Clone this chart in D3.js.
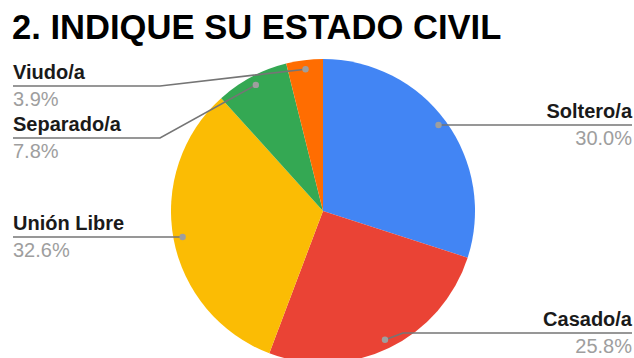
<!DOCTYPE html>
<html>
<head>
<meta charset="utf-8">
<script src="https://cdn.jsdelivr.net/npm/d3@7"></script>
<style>
  html, body { margin: 0; padding: 0; background: #fff; }
  svg { display: block; font-family: "Liberation Sans", Arial, sans-serif; }
</style>
</head>
<body>
<svg id="chart" width="634" height="358"></svg>
<script>
// Marital status survey results
const categories = ["Soltero/a", "Casado/a", "Unión Libre", "Separado/a", "Viudo/a"];
const values = [30.0, 25.8, 32.6, 7.8, 3.9];
const colors = ["#4285F4", "#EA4335", "#FBBC04", "#34A853", "#FF6D01"];
const title = "2. INDIQUE SU ESTADO CIVIL";

// Label placement: side of the chart and the y of each leader line
const labelLayout = [
  { side: "right", lineY: 125 },
  { side: "right", lineY: 333 },
  { side: "left",  lineY: 237 },
  { side: "left",  lineY: 138 },
  { side: "left",  lineY: 86 }
];

const W = 634, H = 358;
const cx = 323, cy = 211, r = 152;
const leftX = 13, rightX = 632, elbowLeft = 160, elbowRight = 403;

const svg = d3.select("#chart");

svg.append("text")
  .attr("x", 12).attr("y", 39)
  .attr("font-size", 34.6).attr("font-weight", "bold")
  .attr("fill", "#000")
  .text(title);

const data = categories.map((c, i) => ({ name: c, value: values[i], color: colors[i], layout: labelLayout[i] }));

const pie = d3.pie().sort(null).value(d => d.value);
const arcs = pie(data);
const arc = d3.arc().innerRadius(0).outerRadius(r);
const dotArc = d3.arc().innerRadius(r * 0.94).outerRadius(r * 0.94);

const g = svg.append("g").attr("transform", `translate(${cx},${cy})`);
g.selectAll("path.slice")
  .data(arcs)
  .join("path")
  .attr("class", "slice")
  .attr("d", arc)
  .attr("fill", d => d.data.color);

// Leader lines and labels
const labels = svg.append("g");
arcs.forEach(a => {
  const [dx, dy] = dotArc.centroid(a);
  const px = cx + dx, py = cy + dy;
  const L = a.data.layout;
  const straight = Math.abs(py - L.lineY) < 4;
  let pts;
  if (L.side === "left") {
    pts = straight
      ? [[leftX, L.lineY], [px, L.lineY]]
      : [[leftX, L.lineY], [elbowLeft, L.lineY], [px, py]];
  } else {
    pts = straight
      ? [[px, L.lineY], [rightX, L.lineY]]
      : [[px, py], [elbowRight, L.lineY], [rightX, L.lineY]];
  }
  labels.append("path")
    .attr("d", d3.line()(pts))
    .attr("fill", "none")
    .attr("stroke", "#757575")
    .attr("stroke-width", 1.6);
  labels.append("circle")
    .attr("cx", px).attr("cy", straight ? L.lineY : py).attr("r", 3.2)
    .attr("fill", "#9e9e9e");

  const tx = L.side === "left" ? leftX : rightX;
  const anchor = L.side === "left" ? "start" : "end";
  labels.append("text")
    .attr("x", tx).attr("y", L.lineY - 7)
    .attr("text-anchor", anchor)
    .attr("font-size", 20).attr("font-weight", "bold")
    .attr("fill", "#1a1a1a")
    .text(a.data.name);
  labels.append("text")
    .attr("x", tx).attr("y", L.lineY + 20)
    .attr("text-anchor", anchor)
    .attr("font-size", 20)
    .attr("fill", "#9e9e9e")
    .text(d3.format(".1f")(a.data.value) + "%");
});
</script>
</body>
</html>
